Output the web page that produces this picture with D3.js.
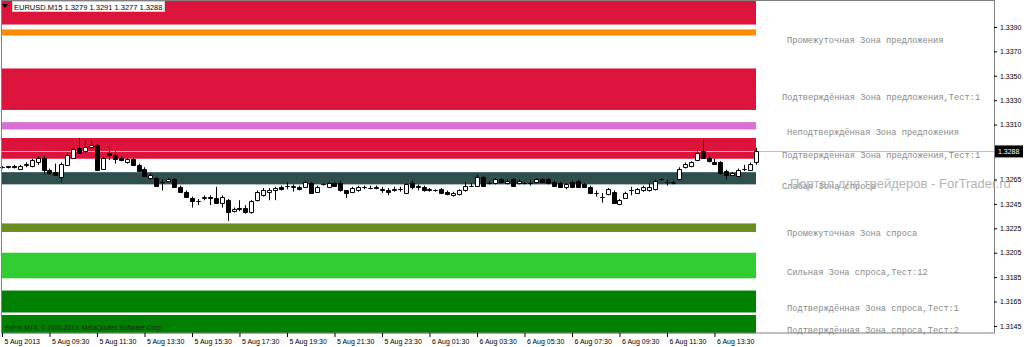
<!DOCTYPE html>
<html>
<head>
<meta charset="utf-8">
<script src="https://cdn.jsdelivr.net/npm/d3@7"></script>
<style>
body { margin: 0; background: #fff; }
svg { display: block; }
</style>
</head>
<body>
<svg id="chart" width="1024" height="347"></svg>
<script>
// EURUSD M15, 5 Aug 2013 07:30 .. 6 Aug 2013 15:15
const open = [1.3275,1.3275,1.3276,1.3274,1.3277,1.3276,1.3279,1.3283,1.3273,1.3271,
  1.3267,1.3277,1.3283,1.3291,1.3288,1.3292,1.3293,1.3274,1.3287,1.3285,
  1.3283,1.3279,1.3282,1.3277,1.3274,1.3266,1.3266,1.3263,1.3264,1.3265,
  1.3259,1.3255,1.3250,1.3247,1.3250,1.3251,1.3250,1.3246,1.3248,1.3239,
  1.3242,1.3242,1.3238,1.3248,1.3252,1.3255,1.3256,1.3259,1.3260,1.3259,
  1.3259,1.3259,1.3262,1.3255,1.3261,1.3259,1.3262,1.3262,1.3256,1.3255,
  1.3256,1.3259,1.3258,1.3258,1.3257,1.3256,1.3256,1.3257,1.3254,1.3262,
  1.3260,1.3259,1.3256,1.3256,1.3257,1.3255,1.3252,1.3253,1.3256,1.3260,
  1.3260,1.3267,1.3262,1.3262,1.3265,1.3262,1.3265,1.3262,1.3262,1.3262,
  1.3263,1.3265,1.3265,1.3263,1.3262,1.3259,1.3263,1.3264,1.3261,1.3259,
  1.3254,1.3251,1.3253,1.3255,1.3245,1.3250,1.3256,1.3254,1.3256,1.3256,
  1.3257,1.3265,1.3263,1.3262,1.3265,1.3275,1.3276,1.3281,1.3288,1.3283,
  1.3279,1.3279,1.3272,1.3269,1.3268,1.3274,1.3273,1.3279];
const high = [1.3276,1.3276,1.3277,1.3277,1.3279,1.3282,1.3284,1.3284,1.3274,1.3278,
  1.3279,1.3287,1.3291,1.3299,1.3297,1.3297,1.3294,1.3284,1.3292,1.3288,
  1.3284,1.3283,1.3283,1.3278,1.3275,1.3270,1.3267,1.3265,1.3266,1.3266,
  1.3260,1.3256,1.3251,1.3249,1.3252,1.3252,1.3259,1.3252,1.3249,1.3242,
  1.3248,1.3244,1.3248,1.3256,1.3258,1.3258,1.3259,1.3260,1.3263,1.3261,
  1.3260,1.3264,1.3263,1.3260,1.3262,1.3263,1.3263,1.3264,1.3256,1.3259,
  1.3260,1.3260,1.3260,1.3260,1.3259,1.3258,1.3259,1.3259,1.3262,1.3264,
  1.3261,1.3260,1.3258,1.3257,1.3258,1.3256,1.3255,1.3257,1.3263,1.3262,
  1.3269,1.3268,1.3264,1.3266,1.3266,1.3265,1.3266,1.3265,1.3263,1.3265,
  1.3266,1.3266,1.3266,1.3264,1.3263,1.3262,1.3264,1.3265,1.3262,1.3260,
  1.3256,1.3254,1.3258,1.3256,1.3249,1.3255,1.3259,1.3258,1.3260,1.3262,
  1.3265,1.3266,1.3265,1.3264,1.3275,1.3279,1.3280,1.3288,1.3297,1.3285,
  1.3282,1.3280,1.3273,1.3271,1.3274,1.3277,1.3279,1.3291];
const low = [1.3274,1.3274,1.3274,1.3273,1.3275,1.3275,1.3277,1.3269,1.3269,1.3268,
  1.3263,1.3276,1.3282,1.3286,1.3287,1.3291,1.3272,1.3273,1.3281,1.3278,
  1.3280,1.3278,1.3276,1.3271,1.3267,1.3265,1.3259,1.3256,1.3263,1.3258,
  1.3254,1.3250,1.3242,1.3244,1.3248,1.3244,1.3245,1.3242,1.3231,1.3238,
  1.3239,1.3237,1.3237,1.3247,1.3251,1.3248,1.3248,1.3256,1.3257,1.3255,
  1.3256,1.3258,1.3253,1.3254,1.3260,1.3258,1.3259,1.3255,1.3250,1.3254,
  1.3255,1.3257,1.3257,1.3257,1.3254,1.3252,1.3255,1.3255,1.3253,1.3257,
  1.3256,1.3255,1.3255,1.3255,1.3253,1.3252,1.3251,1.3252,1.3255,1.3259,
  1.3259,1.3259,1.3261,1.3261,1.3262,1.3261,1.3259,1.3261,1.3261,1.3260,
  1.3262,1.3262,1.3261,1.3259,1.3258,1.3257,1.3258,1.3258,1.3258,1.3253,
  1.3251,1.3246,1.3252,1.3245,1.3244,1.3249,1.3252,1.3253,1.3255,1.3255,
  1.3256,1.3264,1.3260,1.3261,1.3264,1.3274,1.3275,1.3280,1.3282,1.3279,
  1.3277,1.3269,1.3265,1.3268,1.3267,1.3272,1.3272,1.3277];
const close = [1.3275,1.3276,1.3275,1.3276,1.3278,1.3281,1.3283,1.3273,1.3270,1.3269,
  1.3278,1.3285,1.3290,1.3287,1.3292,1.3293,1.3273,1.3283,1.3285,1.3282,
  1.3281,1.3282,1.3277,1.3272,1.3268,1.3269,1.3260,1.3263,1.3265,1.3259,
  1.3255,1.3251,1.3247,1.3247,1.3251,1.3250,1.3246,1.3251,1.3238,1.3241,
  1.3241,1.3238,1.3247,1.3255,1.3256,1.3256,1.3258,1.3257,1.3260,1.3260,
  1.3257,1.3263,1.3254,1.3259,1.3261,1.3262,1.3260,1.3256,1.3254,1.3258,
  1.3259,1.3259,1.3258,1.3259,1.3256,1.3255,1.3257,1.3257,1.3261,1.3259,
  1.3259,1.3256,1.3257,1.3256,1.3254,1.3253,1.3254,1.3256,1.3260,1.3260,
  1.3267,1.3260,1.3262,1.3265,1.3263,1.3264,1.3260,1.3264,1.3262,1.3262,
  1.3265,1.3263,1.3262,1.3260,1.3259,1.3261,1.3259,1.3259,1.3259,1.3254,
  1.3254,1.3251,1.3257,1.3246,1.3248,1.3254,1.3256,1.3257,1.3259,1.3259,
  1.3264,1.3265,1.3263,1.3263,1.3274,1.3278,1.3279,1.3287,1.3283,1.3280,
  1.3278,1.3270,1.3269,1.3270,1.3273,1.3274,1.3278,1.3288];

// supply / demand zones (price from, price to)
const zoneHigh = [1.3412, 1.3388, 1.3356, 1.3312, 1.3299, 1.3271, 1.3229, 1.3205, 1.3174, 1.3154];
const zoneLow  = [1.3392, 1.3383, 1.3322, 1.3306, 1.3282, 1.3261, 1.3222, 1.3184, 1.3156, 1.3139];
const zoneLabels = ["",
  "Промежуточная Зона предложения",
  "Подтверждённая Зона предложения,Тест:1",
  "Неподтверждённая Зона предложения",
  "Подтверждённая Зона предложения,Тест:1",
  "Слабая Зона спроса",
  "Промежуточная Зона спроса",
  "Сильная Зона спроса,Тест:12",
  "Подтверждённая Зона спроса,Тест:1",
  "Подтверждённая Зона спроса,Тест:2"];
const labelPrice = [null, 1.3379, 1.3333, 1.3304, 1.3285, 1.3260, 1.3221, 1.3189, 1.3160, 1.3142];
const zoneColors = ["#dc143c", "#ff8c00", "#dc143c", "#da70d6", "#dc143c",
  "#2f4f4f", "#6b8e23", "#32cd32", "#008000", "#008000"];

const priceTicks = [1.3390, 1.3370, 1.3350, 1.3330, 1.3310, 1.3265, 1.3245, 1.3225, 1.3205, 1.3185, 1.3165, 1.3145];
const timeBars = [0, 8, 16, 24, 32, 40, 48, 56, 64, 72, 80, 88, 96, 104, 112, 120];
const timeLabels = ["5 Aug 2013", "5 Aug 09:30", "5 Aug 11:30", "5 Aug 13:30", "5 Aug 15:30",
  "5 Aug 17:30", "5 Aug 19:30", "5 Aug 21:30", "5 Aug 23:30", "6 Aug 01:30", "6 Aug 03:30",
  "6 Aug 05:30", "6 Aug 07:30", "6 Aug 09:30", "6 Aug 11:30", "6 Aug 13:30"];
const lastPrice = 1.3288;

const svg = d3.select("#chart");
const plotRight = 994, plotBottom = 333;
const sans = "Liberation Sans, Arial, sans-serif";

let y = d3.scaleLinear().domain([1.31392, 1.34121]).range([plotBottom, 0]);
let x = d3.scaleLinear().domain([0, open.length - 1]).range([2, 756]);

// zones
svg.append("g").selectAll("rect").data(zoneHigh).join("rect")
  .attr("x", 2).attr("width", 754)
  .attr("y", d => y(d))
  .attr("height", (d, i) => y(zoneLow[i]) - y(d))
  .attr("fill", (d, i) => zoneColors[i]);

// current price line
svg.append("line")
  .attr("x1", 2).attr("x2", plotRight)
  .attr("y1", Math.round(y(lastPrice)) + 0.5).attr("y2", Math.round(y(lastPrice)) + 0.5)
  .attr("stroke", "#c0c0c0");

// candles
let bars = open.map((o, i) => ({i: i, o: o, h: high[i], l: low[i], c: close[i]}));
let cg = svg.append("g");
cg.selectAll("line").data(bars).join("line")
  .attr("x1", d => Math.round(x(d.i)) + 0.5).attr("x2", d => Math.round(x(d.i)) + 0.5)
  .attr("y1", d => y(d.h)).attr("y2", d => y(d.l))
  .attr("stroke", "#000");
cg.selectAll("path").data(bars).join("path")
  .attr("d", d => {
    let top = Math.round(y(Math.max(d.o, d.c))) + 0.5;
    let bot = Math.round(y(Math.min(d.o, d.c))) + 0.5;
    let x0 = Math.round(x(d.i)) - 1.5;
    return "M" + x0 + "," + top + "h4V" + bot + "h-4Z";
  })
  .attr("fill", d => d.c > d.o ? "#fff" : "#000")
  .attr("stroke", "#000");

// zone labels
let shift = [0, 5, 0, 5, 0, 0, 5, 5, 5, 5];
let labels = zoneLabels.map((t, i) => ({t: t, p: labelPrice[i], dx: shift[i]})).filter(d => d.p !== null);
svg.append("g").selectAll("text").data(labels).join("text")
  .attr("x", d => 782 + d.dx)
  .attr("y", d => y(d.p))
  .attr("dy", "0.35em")
  .attr("font-family", "Liberation Mono, Courier New, monospace")
  .attr("font-size", "8.7px")
  .attr("fill", "#8a8a8a")
  .text(d => d.t);

// frame
svg.append("rect").attr("x", 1.5).attr("y", 0.5)
  .attr("width", plotRight - 1).attr("height", plotBottom - 0.5)
  .attr("fill", "none").attr("stroke", "#808080");

// price axis
let ya = svg.append("g").attr("transform", "translate(" + plotRight + ",0)")
  .call(d3.axisRight(y).tickValues(priceTicks).tickFormat(d3.format(".4f")).tickSize(3).tickPadding(3));
ya.select(".domain").remove();
ya.selectAll("text").attr("font-family", sans).attr("font-size", "7px").attr("fill", "#000");

// current price tag
let py = y(lastPrice);
svg.append("rect").attr("x", 995).attr("y", py - 6).attr("width", 28).attr("height", 12).attr("fill", "#000");
svg.append("text").attr("x", 998).attr("y", py).attr("dy", "0.35em")
  .attr("font-family", sans).attr("font-size", "7px").attr("fill", "#fff")
  .text(d3.format(".4f")(lastPrice));

// time axis
let xa = svg.append("g").attr("transform", "translate(0," + plotBottom + ")")
  .call(d3.axisBottom(x).tickValues(timeBars).tickFormat((d, i) => timeLabels[i]).tickSize(4).tickPadding(2));
xa.select(".domain").remove();
xa.selectAll("text").attr("text-anchor", "start").attr("dx", "2px")
  .attr("font-family", sans).attr("font-size", "7px").attr("fill", "#000");

// copyright
svg.append("text").attr("x", 5).attr("y", 330)
  .attr("font-family", sans).attr("font-size", "6.5px").attr("fill", "#222")
  .text("FxPro MT4, © 2001-2013, MetaQuotes Software Corp.");

// watermark
svg.append("text").attr("x", 790).attr("y", 188)
  .attr("font-family", sans).attr("font-size", "13px").attr("fill", "#b4b4b4")
  .text("Портал для трейдеров - ForTrader.ru");

// header
let n = open.length - 1;
svg.append("path").attr("d", "M2,4h6l-3,4Z").attr("fill", "#000");
let hbox = svg.append("rect").attr("x", 12.5).attr("y", 1.5).attr("height", 10)
  .attr("fill", "#fff").attr("stroke", "#ccc");
let htext = svg.append("text").attr("x", 14).attr("y", 9.5)
  .attr("font-family", sans).attr("font-size", "7.5px").attr("fill", "#000")
  .text("EURUSD.M15  " + [open[n], high[n], low[n], close[n]].map(d3.format(".4f")).join(" "));
hbox.attr("width", Math.ceil(htext.node().getBBox().width) + 3);
</script>
</body>
</html>
